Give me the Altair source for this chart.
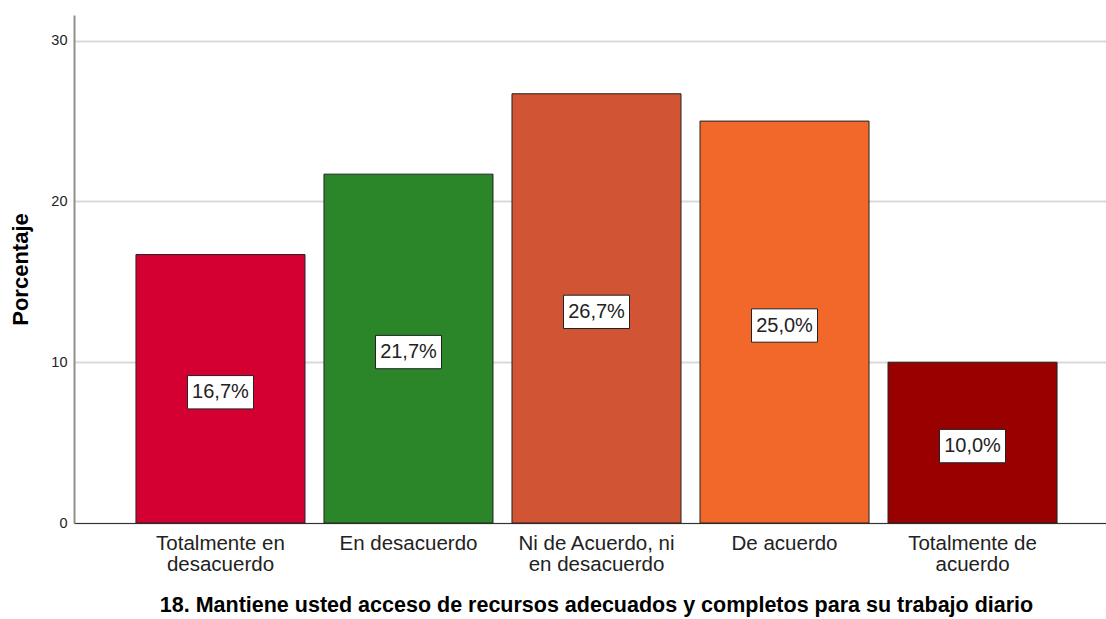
import altair as alt
import pandas as pd

categories = [
    "Totalmente en\ndesacuerdo",
    "En desacuerdo",
    "Ni de Acuerdo, ni\nen desacuerdo",
    "De acuerdo",
    "Totalmente de\nacuerdo",
]
values = [16.7, 21.7, 26.7, 25.0, 10.0]
colors = ["#D50032", "#2A8629", "#D15434", "#F2682A", "#990000"]

df = pd.DataFrame({"cat": categories, "value": values})

FONT = "Liberation Sans"

x = alt.X(
    "cat:N",
    sort=categories,
    scale=alt.Scale(paddingInner=0.101, paddingOuter=0.295, align=0.5586),
    axis=alt.Axis(
        title="18. Mantiene usted acceso de recursos adecuados y completos para su trabajo diario",
        titleFontSize=21.5,
        titleFontWeight="bold",
        titleColor="#000000",
        titleX=522,
        titleAlign="center",
        titlePadding=20,
        labelExpr="split(datum.label, '\\n')",
        labelFontSize=20.5,
        labelLineHeight=21,
        labelColor="#222222",
        labelAngle=0,
        labelPadding=10,
        ticks=False,
        domainColor="#333333",
        domainWidth=1,
        grid=False,
    ),
)

y_scale = alt.Scale(domain=[0, 31.6], nice=False)

bars = alt.Chart(df).mark_bar(stroke="#222222", strokeWidth=1).encode(
    x=x,
    y=alt.Y(
        "value:Q",
        scale=y_scale,
        axis=alt.Axis(
            title="Porcentaje",
            titleFontSize=22,
            titleFontWeight="bold",
            titleColor="#000000",
            titlePadding=18,
            values=[0, 10, 20, 30],
            labelFontSize=14.5,
            labelColor="#222222",
            labelPadding=7,
            ticks=False,
            grid=True,
            gridColor="#d9d9d9",
            gridWidth=2,
            domainColor="#909090",
            domainWidth=2,
        ),
    ),
    color=alt.Color("cat:N", sort=categories, scale=alt.Scale(domain=categories, range=colors), legend=None),
)

base = alt.Chart(df).transform_calculate(
    mid="datum.value / 2",
    lbl="replace(format(datum.value, '.1f'), '.', ',') + '%'",
)

box_path = "M-1,-0.40L1,-0.40L1,0.61L-1,0.61Z"
boxes = base.mark_point(
    shape=box_path, size=66 * 66, filled=True, fill="white", stroke="#222222", strokeWidth=1, opacity=1
).encode(
    x=alt.X("cat:N", sort=categories),
    y=alt.Y("mid:Q", scale=y_scale),
)

texts = base.mark_text(fontSize=20, color="#222222", baseline="middle", dy=3.5, font=FONT).encode(
    x=alt.X("cat:N", sort=categories),
    y=alt.Y("mid:Q", scale=y_scale),
    text="lbl:N",
)

chart = (
    alt.layer(bars, boxes, texts)
    .properties(
        width=1032,
        height=508,
        autosize=alt.AutoSizeParams(type="none"),
        padding={"left": 74, "top": 15, "right": 0, "bottom": 96},
    )
    .configure(font=FONT)
    .configure_view(stroke=None)
)

chart.save("out.html", embed_options={"renderer": "svg", "actions": False})
